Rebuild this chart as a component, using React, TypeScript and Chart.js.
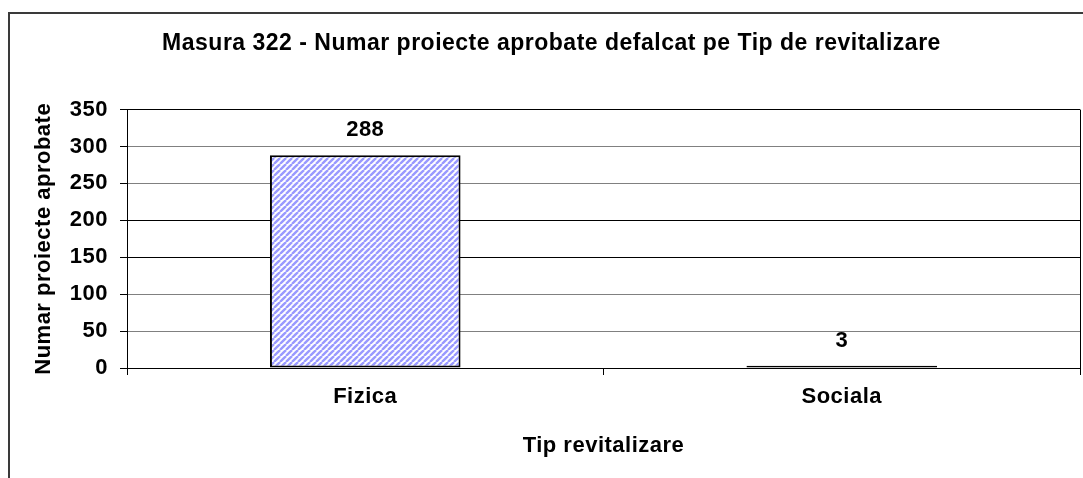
import React, { useEffect, useRef } from "react";
import { Chart, registerables } from "chart.js";

Chart.register(...registerables);

const categories: string[] = ["Fizica", "Sociala"];
const values: number[] = [288, 3];
const yTicks: number[] = [0, 50, 100, 150, 200, 250, 300, 350];
const chartTitle = "Masura 322 - Numar proiecte aprobate defalcat pe Tip de revitalizare";
const xTitle = "Tip revitalizare";
const yTitle = "Numar proiecte aprobate";

const FONT = '"Liberation Sans", Arial, Helvetica, sans-serif';

function makePattern(ctx: CanvasRenderingContext2D): CanvasPattern | string {
  const n = 6;
  const tile = document.createElement("canvas");
  tile.width = n;
  tile.height = n;
  const g = tile.getContext("2d");
  if (!g) return "#aaaaff";
  g.fillStyle = "#ffffff";
  g.fillRect(0, 0, n, n);
  g.strokeStyle = "#9999ff";
  g.lineWidth = 2.4;
  for (let k = -1; k <= 1; k++) {
    g.beginPath();
    g.moveTo(k * n, n);
    g.lineTo(k * n + n, 0);
    g.stroke();
  }
  return ctx.createPattern(tile, "repeat") || "#aaaaff";
}

const spacingPlugin = {
  id: "spacingPlugin",
  beforeDraw(chart: any) {
    chart.ctx.letterSpacing = "0.5px";
  },
};

const valueLabels = {
  id: "valueLabels",
  afterDatasetsDraw(chart: any) {
    const ctx = chart.ctx as CanvasRenderingContext2D;
    const meta = chart.getDatasetMeta(0);
    ctx.save();
    ctx.font = `bold 22px ${FONT}`;
    ctx.fillStyle = "#000";
    ctx.textAlign = "center";
    ctx.textBaseline = "middle";
    meta.data.forEach((el: any, i: number) => {
      ctx.fillText(String(values[i]), el.x, el.y - 25);
    });
    ctx.restore();
  },
};

export default function App() {
  const canvasRef = useRef<HTMLCanvasElement | null>(null);

  useEffect(() => {
    const canvas = canvasRef.current;
    if (!canvas) return;
    const ctx = canvas.getContext("2d");
    if (!ctx) return;
    const pattern = makePattern(ctx);
    const tickFont = { family: FONT, size: 22, weight: "bold" as const };

    const chart = new Chart(ctx, {
      type: "bar",
      data: {
        labels: categories,
        datasets: [
          {
            data: values,
            backgroundColor: pattern as any,
            borderColor: "#000",
            borderWidth: 2,
            borderSkipped: false,
            barPercentage: 0.4,
            categoryPercentage: 1,
          },
        ],
      },
      options: {
        responsive: false,
        animation: false,
        layout: { padding: { top: 0, left: 13, right: 13, bottom: 0 } },
        plugins: {
          legend: { display: false },
          tooltip: { enabled: false },
          title: {
            display: true,
            text: chartTitle,
            color: "#000",
            font: { family: FONT, size: 23, weight: "bold" },
            padding: { top: 16, bottom: 52 },
          },
        },
        scales: {
          x: {
            grid: {
              offset: true,
              drawOnChartArea: true,
              color: (c: any) => (c.index === 1 ? "rgba(0,0,0,0)" : "#000"),
              tickColor: "#000",
              tickLength: 7,
              lineWidth: 1,
            },
            border: { color: "#000", width: 1 },
            ticks: { color: "#000", font: tickFont, padding: 9 },
            title: {
              display: true,
              text: xTitle,
              color: "#000",
              font: tickFont,
              padding: { top: 0, bottom: 19 },
            },
            afterFit(s: any) {
              s.height = 110;
            },
          },
          y: {
            min: 0,
            max: 350,
            afterBuildTicks(s: any) {
              s.ticks = yTicks.map((value) => ({ value }));
            },
            grid: {
              color: (c: any) =>
                c.tick && (c.tick.value === 0 || c.tick.value === 350 || c.tick.value === 200 || c.tick.value === 150)
                  ? "#000"
                  : "#808080",
              tickColor: "#000",
              tickLength: 7,
              lineWidth: 1,
            },
            border: { color: "#000", width: 1 },
            ticks: { color: "#000", font: tickFont, padding: 12 },
            title: {
              display: true,
              text: yTitle,
              color: "#000",
              font: tickFont,
              padding: { top: 8, bottom: 0 },
            },
            afterFit(s: any) {
              s.width = 104;
            },
          },
        },
      },
      plugins: [spacingPlugin, valueLabels],
    });

    return () => {
      chart.destroy();
    };
  }, []);

  return (
    <div
      style={{
        position: "absolute",
        left: 8,
        top: 12,
        width: 1075,
        height: 466,
        boxSizing: "border-box",
        borderLeft: "2px solid #3a3a3a",
        borderTop: "2px solid #3a3a3a",
        overflow: "hidden",
        background: "#fff",
      }}
    >
      <canvas ref={canvasRef} width={1083} height={464} style={{ display: "block" }} />
    </div>
  );
}
